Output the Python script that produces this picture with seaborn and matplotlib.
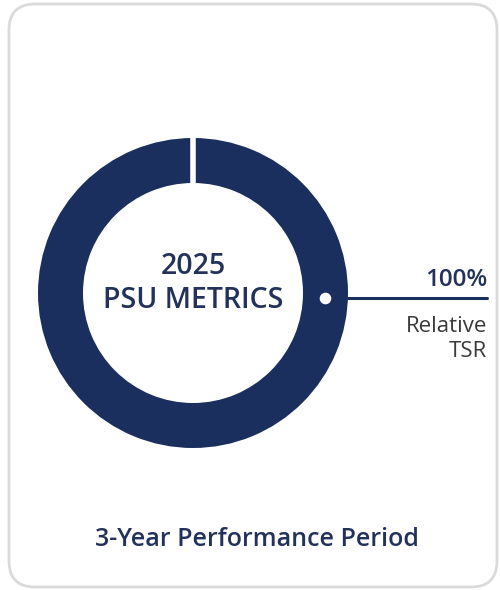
import numpy as np
import matplotlib
matplotlib.use("Agg")
import matplotlib.pyplot as plt
from matplotlib.patches import FancyBboxPatch
import seaborn as sns

# PSU metric weights
metrics = ["Relative\nTSR"]
weights = [100]
weight_labels = ["100%"]
center_title = ["2025", "PSU METRICS"]
footer = "3-Year Performance Period"

sns.set_theme(style="white")
plt.rcParams["font.family"] = ["Open Sans", "DejaVu Sans"]

navy = "#1b2f5f"
text_navy = "#22325a"
text_dark = "#3a3a3a"

W, H = 500, 590
fig = plt.figure(figsize=(W / 100, H / 100), dpi=100)
ax = fig.add_axes([0, 0, 1, 1])
ax.set_xlim(0, W)
ax.set_ylim(0, H)
ax.set_aspect("equal")
ax.axis("off")

# card outline
card = FancyBboxPatch((9, 3), 488, 583, boxstyle="round,pad=0,rounding_size=26",
                      fc="white", ec="#dadada", lw=2, zorder=0)
ax.add_patch(card)

cx, cy = 193, 297
r_out, ring_w = 155, 45
colors = sns.color_palette([navy], len(weights))
wedges, _ = ax.pie(weights, radius=r_out, center=(cx, cy), startangle=90,
                   counterclock=False, colors=colors,
                   wedgeprops=dict(width=ring_w, linewidth=0), frame=True)
ax.set_xlim(0, W)
ax.set_ylim(0, H)
ax.axis("off")

# white separator at the start of the ring
w0 = wedges[0]
t = np.deg2rad(w0.theta1)
ax.plot([cx + (r_out - ring_w - 2) * np.cos(t), cx + (r_out + 2) * np.cos(t)],
        [cy + (r_out - ring_w - 2) * np.sin(t), cy + (r_out + 2) * np.sin(t)],
        color="white", lw=4, solid_capstyle="butt", zorder=3)

# centre title
ax.text(cx, cy + 26, center_title[0], ha="center", va="center",
        fontsize=20.5, color=text_navy, fontweight="semibold")
ax.text(cx, cy - 8, center_title[1], ha="center", va="center",
        fontsize=20.5, color=text_navy, fontweight="semibold")

# callout for the metric
ang = np.deg2rad(-2.2)
r_mid = r_out - ring_w / 2
dx, dy = cx + r_mid * np.cos(ang), cy + r_mid * np.sin(ang)
ax.plot([cx + r_out * np.cos(ang), 487], [dy, dy], color=navy, lw=2.2, zorder=3)
ax.scatter([dx], [dy], s=70, color="white", zorder=4, linewidths=0)
ax.text(487, dy + 18, weight_labels[0], ha="right", va="center",
        fontsize=17.5, color=text_navy, fontweight="semibold")
ax.text(487, dy - 41, metrics[0], ha="right", va="center",
        fontsize=16, color=text_dark, linespacing=1.25)

# footer
ax.text(257, H - 540, footer, ha="center", va="center",
        fontsize=18, color=text_navy, fontweight="semibold")

fig.savefig("out.png", dpi=100, facecolor="white")
